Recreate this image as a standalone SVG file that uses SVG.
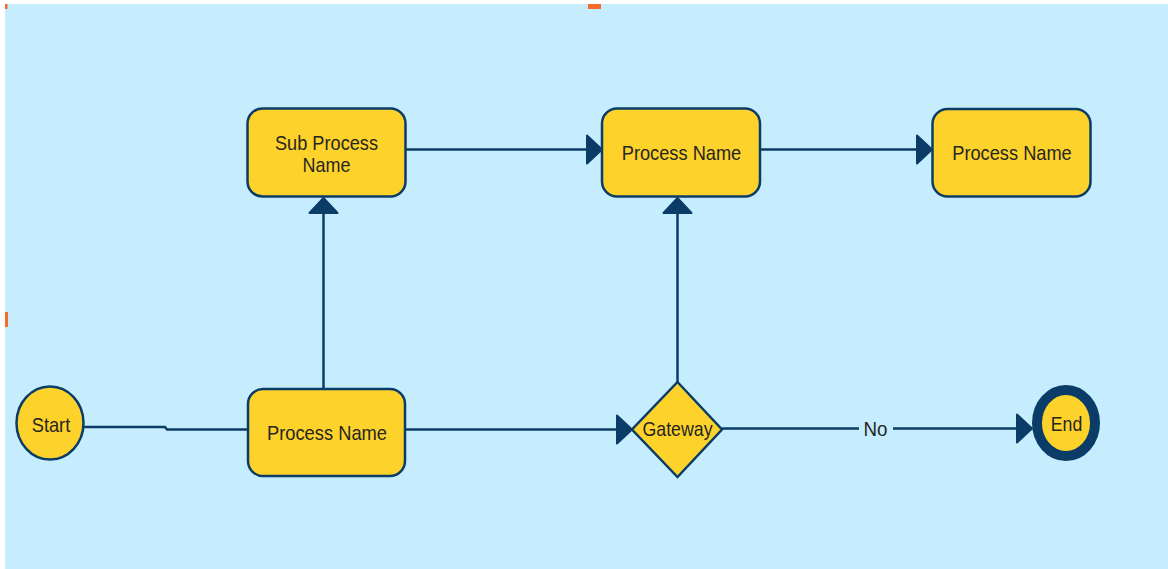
<svg xmlns="http://www.w3.org/2000/svg" width="1168" height="569" viewBox="0 0 1168 569">
  <defs>
    <style>
      .shape { fill: #FDD22B; stroke: #0B3C68; stroke-width: 2.5; }
      .edge { fill: none; stroke: #0B3C68; stroke-width: 2.5; }
      .lbl { font-family: "Liberation Sans", Arial, sans-serif; font-size: 21px; fill: #262620; text-anchor: middle; }
      .handle { fill: #F56B2E; }
    </style>
    <marker id="arrow" markerUnits="userSpaceOnUse" markerWidth="20" markerHeight="34" refX="17" refY="16" orient="auto">
      <path d="M2,2 L17,16 L2,30 Z" fill="#0B3C68" stroke="#0B3C68" stroke-width="2" stroke-linejoin="round"/>
    </marker>
  </defs>

  <!-- canvas -->
  <rect x="5" y="4" width="1163" height="565" fill="#C5EDFE"/>
  <rect class="handle" x="5" y="4" width="2.5" height="5"/>
  <rect class="handle" x="588" y="4" width="13" height="5"/>
  <rect class="handle" x="5" y="312" width="3" height="15"/>

  <!-- connectors -->
  <g id="connectors">
    <path class="edge" d="M84,427 H165 L167,429.5 H248"/>
    <path class="edge" d="M323.5,389 V198" marker-end="url(#arrow)"/>
    <path class="edge" d="M406,149.5 H602" marker-end="url(#arrow)"/>
    <path class="edge" d="M760,149.5 H932" marker-end="url(#arrow)"/>
    <path class="edge" d="M405,429.5 H632" marker-end="url(#arrow)"/>
    <path class="edge" d="M677.5,383 V198" marker-end="url(#arrow)"/>
    <path class="edge" d="M722,428.5 H1032" marker-end="url(#arrow)"/>
    <g id="label-no">
      <rect x="859" y="416" width="34" height="24" fill="#C5EDFE"/>
      <text class="lbl" x="875.5" y="436" textLength="24" lengthAdjust="spacingAndGlyphs">No</text>
    </g>
  </g>

  <g id="start">
    <ellipse class="shape" cx="50" cy="423" rx="33.5" ry="36.5"/>
    <text class="lbl" x="51" y="431.5" textLength="38.5" lengthAdjust="spacingAndGlyphs">Start</text>
  </g>

  <g id="process-main">
    <rect class="shape" x="248" y="389" width="157" height="87" rx="15"/>
    <text class="lbl" x="327" y="439.5" textLength="120" lengthAdjust="spacingAndGlyphs">Process Name</text>
  </g>

  <g id="sub-process">
    <rect class="shape" x="247.5" y="108.5" width="158" height="88" rx="15"/>
    <text class="lbl" x="326.5" y="149.5" textLength="103" lengthAdjust="spacingAndGlyphs">Sub Process</text>
    <text class="lbl" x="326.5" y="171.5" textLength="48" lengthAdjust="spacingAndGlyphs">Name</text>
  </g>

  <g id="process-middle">
    <rect class="shape" x="602" y="108.5" width="158" height="88" rx="15"/>
    <text class="lbl" x="681.5" y="160" textLength="119.5" lengthAdjust="spacingAndGlyphs">Process Name</text>
  </g>

  <g id="process-right">
    <rect class="shape" x="932.5" y="109" width="158" height="87.5" rx="15"/>
    <text class="lbl" x="1012" y="160" textLength="119.5" lengthAdjust="spacingAndGlyphs">Process Name</text>
  </g>

  <g id="gateway">
    <polygon class="shape" points="677.5,382 722,429.5 677.5,477 632,429.5"/>
    <text class="lbl" x="677.5" y="436" textLength="70" lengthAdjust="spacingAndGlyphs">Gateway</text>
  </g>

  <g id="end">
    <ellipse cx="1066" cy="423" rx="29" ry="33" fill="#FDD22B" stroke="#0B3C68" stroke-width="10"/>
    <text class="lbl" x="1066.5" y="431" textLength="31.5" lengthAdjust="spacingAndGlyphs">End</text>
  </g>
</svg>
